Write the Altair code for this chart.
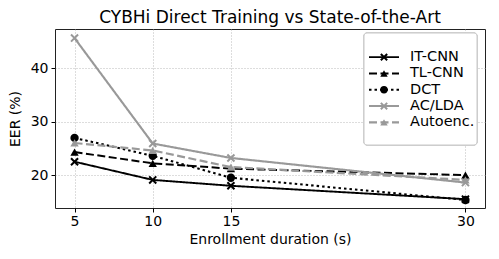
import altair as alt
import pandas as pd

durations = [5, 10, 15, 30]
series = ["IT-CNN", "TL-CNN", "DCT", "AC/LDA", "Autoenc."]
it_cnn = [22.5, 19.1, 18.0, 15.5]
tl_cnn = [24.3, 22.2, 21.2, 20.0]
dct = [26.95, 23.6, 19.5, 15.35]
ac_lda = [45.6, 25.9, 23.2, 18.6]
autoenc = [26.0, 24.6, 21.5, 19.1]

colors = ["#000000", "#000000", "#000000", "#999999", "#999999"]
dashes = [[1, 0], [8, 3.5], [2.5, 3], [1, 0], [8, 3.5]]
widths = [1.9, 2.2, 2.8, 1.8, 2.2]
xshape = "M-1,-1L1,1M-1,1L1,-1"
shapes = [xshape, "triangle-up", "circle", xshape, "triangle-up"]
hollow = ["IT-CNN", "AC/LDA"]

values = [it_cnn, tl_cnn, dct, ac_lda, autoenc]
rows = []
for s, vals in zip(series, values):
    for d, v in zip(durations, vals):
        rows.append({"series": s, "duration": d, "eer": v})
df = pd.DataFrame(rows)
leg = pd.DataFrame({"series": series})

color_scale = alt.Scale(domain=series, range=colors)
dash_scale = alt.Scale(domain=series, range=dashes)
width_scale = alt.Scale(domain=series, range=widths)
shape_scale = alt.Scale(domain=series, range=shapes)

axis_common = dict(grid=True, gridDash=[1, 2], gridColor="#aaaaaa", gridWidth=0.8,
                   tickColor="#000", tickSize=4, labelFontSize=14, titleFontSize=14,
                   domain=False, labelColor="#000", titleColor="#000",
                   labelFont="DejaVu Sans", titleFont="DejaVu Sans",
                   titleFontWeight="normal")
X = alt.X("duration:Q", scale=alt.Scale(domain=[3.75, 31.25], nice=False, zero=False),
          axis=alt.Axis(values=durations, title="Enrollment duration (s)",
                        labelPadding=2, titlePadding=4, **axis_common))
Y = alt.Y("eer:Q", scale=alt.Scale(domain=[13.85, 47.3], nice=False, zero=False),
          axis=alt.Axis(values=[20, 30, 40], title="EER (%)",
                        labelPadding=3, titlePadding=8, **axis_common))

base = alt.Chart(df)
lines = base.mark_line(strokeCap="butt").encode(
    x=X, y=Y,
    color=alt.Color("series:N", scale=color_scale, legend=None),
    strokeDash=alt.StrokeDash("series:N", scale=dash_scale, legend=None),
    strokeWidth=alt.StrokeWidth("series:N", scale=width_scale, legend=None),
    detail="series:N",
)
pts_hollow = base.transform_filter(
    alt.FieldOneOfPredicate(field="series", oneOf=hollow)
).mark_point(filled=False, size=50, strokeWidth=2, opacity=1).encode(
    x=X, y=Y,
    color=alt.Color("series:N", scale=color_scale, legend=None),
    shape=alt.Shape("series:N", scale=shape_scale, legend=None),
)
pts_filled = base.transform_filter(
    ~alt.FieldOneOfPredicate(field="series", oneOf=hollow)
).mark_point(filled=True, size=70, opacity=1).encode(
    x=X, y=Y,
    color=alt.Color("series:N", scale=color_scale, legend=None),
    shape=alt.Shape("series:N", scale=shape_scale, legend=None),
)
main = alt.layer(lines, pts_filled, pts_hollow)

# legend
LY = alt.Y("series:N", scale=alt.Scale(domain=series, range=[20, 101.5]), axis=None)
legbox = alt.Chart(leg).mark_rect(fill="white", fillOpacity=0.85, stroke="#cccccc",
                                  strokeWidth=1, cornerRadius=3).encode(
    x=alt.value(309), x2=alt.value(422), y=alt.value(4), y2=alt.value(116))
legline = alt.Chart(leg).mark_rule(strokeCap="butt").encode(
    x=alt.value(314), x2=alt.value(344), y=LY,
    color=alt.Color("series:N", scale=color_scale, legend=None),
    strokeDash=alt.StrokeDash("series:N", scale=dash_scale, legend=None),
    strokeWidth=alt.StrokeWidth("series:N", scale=width_scale, legend=None),
)
legpt_h = alt.Chart(leg).transform_filter(
    alt.FieldOneOfPredicate(field="series", oneOf=hollow)
).mark_point(filled=False, size=40, strokeWidth=2, opacity=1).encode(
    x=alt.value(329), y=LY,
    color=alt.Color("series:N", scale=color_scale, legend=None),
    shape=alt.Shape("series:N", scale=shape_scale, legend=None),
)
legpt_f = alt.Chart(leg).transform_filter(
    ~alt.FieldOneOfPredicate(field="series", oneOf=hollow)
).mark_point(filled=True, size=55, opacity=1).encode(
    x=alt.value(329), y=LY,
    color=alt.Color("series:N", scale=color_scale, legend=None),
    shape=alt.Shape("series:N", scale=shape_scale, legend=None),
)
legtext = alt.Chart(leg).mark_text(align="left", baseline="middle", fontSize=14.5,
                                   font="DejaVu Sans", color="#000").encode(
    x=alt.value(355), y=LY, text="series:N")
legend = alt.layer(legbox, legline, legpt_f, legpt_h, legtext)

chart = alt.layer(main, legend).resolve_scale(y="independent").properties(
    width=430, height=179,
    title=alt.TitleParams("CYBHi Direct Training vs State-of-the-Art", fontSize=17,
                          font="DejaVu Sans", fontWeight="normal", color="#000", offset=2),
    autosize=alt.AutoSizeParams(type="none"),
    padding={"left": 47, "top": 21, "right": 6, "bottom": 44},
).configure_view(stroke="#222222", strokeWidth=1)

chart.save("out.html", embed_options={"renderer": "svg", "actions": False})
